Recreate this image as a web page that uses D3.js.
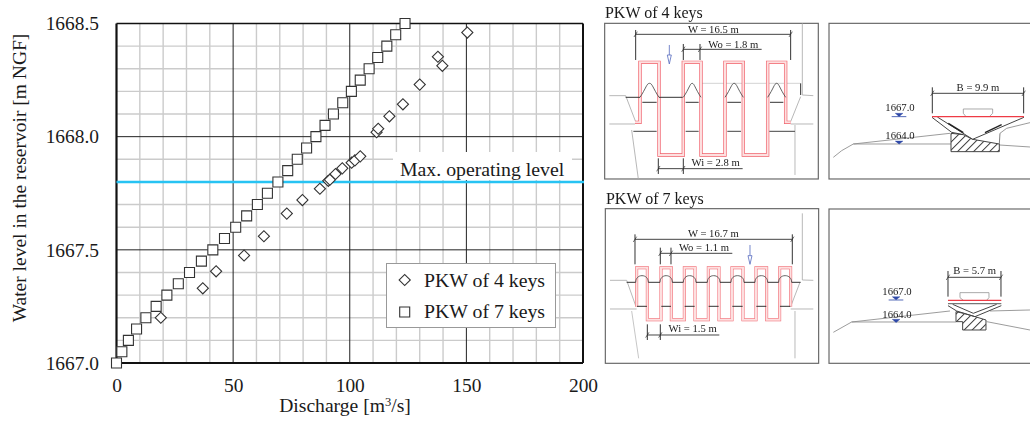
<!DOCTYPE html>
<html>
<head>
<meta charset="utf-8">
<script src="https://d3js.org/d3.v7.min.js"></script>
<style>
	html, body { margin: 0; padding: 0; background: #fff; }
	svg { display: block; }
	text { font-family: "Liberation Serif", serif; fill: #1a1a1a; }
</style>
</head>
<body>
<svg id="chart" width="1030" height="421"></svg>
<script>

	var levels7 = [1667.0, 1667.05, 1667.1, 1667.15, 1667.2, 1667.25, 1667.3, 1667.35, 1667.4, 1667.45, 1667.5,
		1667.55, 1667.6, 1667.65, 1667.7, 1667.75, 1667.8, 1667.85, 1667.9, 1667.95, 1668.0,
		1668.05, 1668.1, 1668.15, 1668.2, 1668.25, 1668.3, 1668.35, 1668.4, 1668.45, 1668.5]
	var discharge7 = [0, 2.3, 5.1, 8.6, 12.6, 17, 21.6, 26.5, 31.3, 36.4, 41.3,
		46.3, 51.1, 55.8, 60.4, 64.7, 69.2, 73.4, 77.5, 81.5, 85.5,
		89.4, 93, 97, 100.7, 104.5, 108.3, 112, 115.9, 119.7, 123.7]
	var levels4 = [1667.2, 1667.33, 1667.405, 1667.475, 1667.56, 1667.66, 1667.72, 1667.77, 1667.805, 1667.81,
		1667.835, 1667.86, 1667.885, 1667.895, 1667.913, 1668.02, 1668.035, 1668.09, 1668.143, 1668.23,
		1668.353, 1668.313, 1668.46]
	var discharge4 = [19, 37, 42.7, 54.7, 63.2, 73, 79.7, 87.2, 90.8, 91.5,
		93.9, 96.8, 100.8, 102.2, 104.5, 111.5, 112.2, 117, 122.8, 130,
		137.8, 139.7, 150.4]
	var xTicks = [0, 50, 100, 150, 200]
	var yTicks = [1667.0, 1667.5, 1668.0, 1668.5]
	var legendLabels = ['PKW of 4 keys', 'PKW of 7 keys']
	var maxLevel = 1667.8

	var svg = d3.select('#chart')

	var plotLeft = 116.5, plotRight = 583, plotTop = 23.5, plotBottom = 363
	var x = d3.scaleLinear().domain([0, 200]).range([plotLeft, plotRight])
	var y = d3.scaleLinear().domain([1667, 1668.5]).range([plotBottom, plotTop])

	// grid
	var xMinor = d3.range(0, 201, 10).filter(function(d){ return d % 50 != 0 })
	var yMinor = d3.range(1, 15).filter(function(d){ return d % 5 != 0 }).map(function(d){ return 1667 + d / 10 })

	svg.selectAll('line.vminor').data(xMinor).enter().append('line')
		.attr('x1', x).attr('x2', x).attr('y1', plotTop).attr('y2', plotBottom)
		.style('stroke', '#cbcbcb').style('stroke-width', 1.4)
	svg.selectAll('line.hminor').data(yMinor).enter().append('line')
		.attr('x1', plotLeft).attr('x2', plotRight)
		.attr('y1', y).attr('y2', y)
		.style('stroke', '#cbcbcb').style('stroke-width', 1.4)
	svg.selectAll('line.vmajor').data([50, 100, 150]).enter().append('line')
		.attr('x1', x).attr('x2', x).attr('y1', plotTop).attr('y2', plotBottom)
		.style('stroke', '#222').style('stroke-width', 1)
	svg.selectAll('line.hmajor').data([1667.5, 1668]).enter().append('line')
		.attr('x1', plotLeft).attr('x2', plotRight)
		.attr('y1', y).attr('y2', y)
		.style('stroke', '#222').style('stroke-width', 1)

	// white box behind the level label
	svg.append('rect').attr('x', 393).attr('y', 152).attr('width', 179).attr('height', 28).style('fill', '#fff')

	// frame
	var frameLines = [
		[plotLeft, plotTop, plotRight, plotTop, 1.3], [plotRight, plotTop, plotRight, plotBottom, 2],
		[plotLeft, plotTop, plotLeft, plotBottom, 2.2], [plotLeft, plotBottom, plotRight, plotBottom, 2.2]
	]
	svg.selectAll('line.frame').data(frameLines).enter().append('line')
		.attr('x1', function(d){ return d[0] }).attr('y1', function(d){ return d[1] })
		.attr('x2', function(d){ return d[2] }).attr('y2', function(d){ return d[3] })
		.style('stroke', '#111').style('stroke-width', function(d){ return d[4] })

	// max level line
	svg.append('line')
		.attr('x1', plotLeft).attr('x2', plotRight + 1)
		.attr('y1', y(maxLevel)).attr('y2', y(maxLevel))
		.style('stroke', '#27c3f3').style('stroke-width', 2.4)
	svg.append('text').attr('x', 400).attr('y', 176).style('font-size', '19.8px').text('Max. operating level')

	// axes
	var xAxis = d3.axisBottom(x).tickValues(xTicks).tickSize(0).tickPadding(15)
	var yAxis = d3.axisLeft(y).tickValues(yTicks).tickFormat(d3.format('.1f')).tickSize(0).tickPadding(17.5)

	var gx = svg.append('g').attr('transform', 'translate(0,' + plotBottom + ')').call(xAxis)
	var gy = svg.append('g').attr('transform', 'translate(' + plotLeft + ',0)').call(yAxis)
	gx.select('.domain').remove()
	gy.select('.domain').remove()
	svg.selectAll('.tick text').style('font-size', '19.4px').style('font-family', '"Liberation Serif", serif')

	var xTitle = svg.append('text').attr('x', 345).attr('y', 412).style('text-anchor', 'middle').style('font-size', '19.6px')
	xTitle.append('tspan').text('Discharge [m')
	xTitle.append('tspan').attr('dy', -6).style('font-size', '12.5px').text('3')
	xTitle.append('tspan').attr('dy', 6).text('/s]')

	svg.append('text')
		.attr('transform', 'translate(26,178) rotate(-90)')
		.style('text-anchor', 'middle').style('font-size', '19.5px')
		.text('Water level in the reservoir [m NGF]')

	// points
	var diamond = d3.symbol().type(d3.symbolSquare).size(62)
	var square = d3.symbol().type(d3.symbolSquare).size(100)

	svg.selectAll('path.p4').data(levels4).enter().append('path')
		.attr('d', diamond)
		.attr('transform', function(d, i){ return 'translate(' + x(discharge4[i]) + ',' + y(d) + ') rotate(45)' })
		.style('fill', '#fff').style('stroke', '#333').style('stroke-width', 1.1)
	svg.selectAll('path.p7').data(levels7).enter().append('path')
		.attr('d', square)
		.attr('transform', function(d, i){ return 'translate(' + x(discharge7[i]) + ',' + y(d) + ')' })
		.style('fill', '#fff').style('stroke', '#333').style('stroke-width', 1.1)

	// legend
	svg.append('rect').attr('x', 386.5).attr('y', 263.5).attr('width', 169).attr('height', 64)
		.style('fill', '#fff').style('stroke', '#999').style('stroke-width', 1)
	svg.append('path').attr('d', diamond)
		.attr('transform', 'translate(404.7,280) rotate(45)')
		.style('fill', '#fff').style('stroke', '#333').style('stroke-width', 1.1)
	svg.append('path').attr('d', square)
		.attr('transform', 'translate(404.7,312)')
		.style('fill', '#fff').style('stroke', '#333').style('stroke-width', 1.1)
	svg.selectAll('text.legend').data(legendLabels).enter().append('text')
		.attr('x', 424).attr('y', function(d, i){ return 286.5 + i * 31.5 })
		.style('font-size', '19.8px').text(function(d){ return d })

	// ---- spillway drawings, all in 3x crop units ----
	var defs = svg.append('defs')
	defs.append('pattern').attr('id', 'hatch').attr('width', 17).attr('height', 17)
		.attr('patternUnits', 'userSpaceOnUse').attr('patternTransform', 'rotate(45)')
		.append('line').attr('x1', 0).attr('y1', 0).attr('x2', 0).attr('y2', 17)
		.style('stroke', '#222').style('stroke-width', 5)
	defs.append('filter').attr('id', 'soft').append('feGaussianBlur').attr('stdDeviation', 0.8)

	var line = d3.line()

	function poly(g, pts, color, w, fill) {
		g.append('path').attr('d', line(pts))
			.style('fill', fill || 'none').style('stroke', color).style('stroke-width', w)
			.style('stroke-linejoin', 'miter')
	}
	function label(g, str, px, py, anchor, size) {
		g.append('text').attr('x', px).attr('y', py)
			.style('text-anchor', anchor || 'middle').style('font-size', (size || 32) + 'px').text(str)
	}
	function dim(g, a, b, top1, bot1, yy, extendTo) {
		poly(g, [[a, top1], [a, bot1]], '#333', 3)
		poly(g, [[b, top1], [b, bot1]], '#333', 3)
		poly(g, [[a, yy], [extendTo || b, yy]], '#444', 3)
		poly(g, [[a - 5, yy + 8], [a + 5, yy - 8]], '#222', 2)
		poly(g, [[b - 5, yy + 8], [b + 5, yy - 8]], '#222', 2)
	}
	function arrow(g, px, y1, y2, y3) {
		poly(g, [[px, y1], [px, y2]], '#5a6fc0', 2.5)
		poly(g, [[px - 6, y2], [px + 6, y2], [px, y3], [px - 6, y2]], '#5a6fc0', 2.5, '#fff')
	}
	function sign(g, cx, yy, withLine) {
		poly(g, [[cx - 12, yy], [cx + 12, yy], [cx, yy + 10]], '#2f49a8', 1, '#2f49a8')
		if (withLine) poly(g, [[cx - 22, yy + 10], [cx + 22, yy + 10]], '#2f49a8', 2.5)
	}

	function panel(ox, oy) {
		return svg.append('g').attr('transform', 'translate(' + ox + ',' + oy + ') scale(0.3333)')
			.style('filter', 'url(#soft)')
	}

	// PKW of 4 keys, plan
	var keys4 = [[120, 177], [250, 303], [375, 430], [503, 557]]
	var p1 = panel(600, 0)
	label(p1, 'PKW of 4 keys', 15, 55, 'start', 48)
	p1.append('rect').attr('x', 14).attr('y', 70).attr('width', 641).attr('height', 467)
		.style('fill', 'none').style('stroke', '#666').style('stroke-width', 3.5)
	poly(p1, [[28, 287], [77, 287], [108, 368]], '#aaa', 2.5)
	poly(p1, [[28, 372], [105, 372]], '#aaa', 2.5)
	poly(p1, [[95, 390], [115, 537]], '#aaa', 2.5)
	poly(p1, [[607, 70], [607, 285], [640, 287]], '#aaa', 2.5)
	poly(p1, [[602, 290], [572, 365]], '#aaa', 2.5)
	poly(p1, [[572, 372], [640, 372]], '#aaa', 2.5)
	poly(p1, [[585, 375], [585, 525]], '#bbb', 3)
	poly(p1, [[303, 250], [600, 250]], '#bbb', 2)
	poly(p1, [[602, 250], [602, 285]], '#333', 3)

	var path4 = [[105, 367], [120, 367]]
	keys4.forEach(function(k, i){
		path4.push([k[0], 187], [k[1], 187])
		if (i < 3) path4.push([k[1], 465], [keys4[i + 1][0], 465])
	})
	path4.push([557, 367], [572, 367])
	poly(p1, path4, '#f0606a', 10)
	poly(p1, path4, '#fde0e0', 6)

	poly(p1, [[77, 292], [120, 292]], '#333', 3)
	poly(p1, [[177, 292], [248, 292]], '#333', 3)
	poly(p1, [[100, 394], [170, 394]], '#444', 3)
	poly(p1, [[508, 394], [585, 394]], '#444', 3)
	keys4.forEach(function(k, i){
		p1.append('path')
			.attr('d', 'M' + k[0] + ',292 C' + (k[0] + 18) + ',265 ' + (k[0] + 20) + ',250 ' + ((k[0] + k[1]) / 2) + ',250 C'
				+ (k[1] - 20) + ',250 ' + (k[1] - 18) + ',265 ' + k[1] + ',292')
			.style('fill', 'none').style('stroke', '#444').style('stroke-width', 2.5)
		poly(p1, [[k[0] + 7, 307], [k[1] - 7, 307]], '#333', 3)
		if (i > 0 && i < 3) poly(p1, [[k[0] + 7, 394], [k[1] - 7, 394]], '#444', 3)
	})
	dim(p1, 107, 572, 90, 180, 103)
	dim(p1, 250, 300, 132, 180, 148, 485)
	dim(p1, 175, 250, 475, 522, 506, 428)
	arrow(p1, 208, 135, 165, 192)
	label(p1, 'W = 16.5 m', 340, 99)
	label(p1, 'Wo = 1.8 m', 400, 143)
	label(p1, 'Wi = 2.8 m', 347, 499)

	// PKW of 4 keys, section
	var p2 = panel(820, 0)
	p2.append('rect').attr('x', 27).attr('y', 70).attr('width', 640).attr('height', 467)
		.style('fill', 'none').style('stroke', '#666').style('stroke-width', 3.5)
	poly(p2, [[40, 472], [65, 452], [100, 432], [393, 432]], '#888', 2.5)
	poly(p2, [[100, 432], [390, 400]], '#888', 2.5)
	poly(p2, [[538, 435], [630, 441]], '#888', 2.5)
	poly(p2, [[540, 400], [560, 385], [630, 368]], '#888', 2.5)
	poly(p2, [[393, 400], [430, 404], [458, 418], [538, 432], [538, 455], [393, 455], [393, 400]], '#444', 3, 'url(#hatch)')
	poly(p2, [[538, 432], [540, 400]], '#666', 2.5)
	poly(p2, [[336, 352], [395, 397], [430, 404]], '#444', 3)
	poly(p2, [[352, 351], [458, 418], [612, 352]], '#444', 3)
	poly(p2, [[385, 370], [430, 398]], '#222', 4)
	poly(p2, [[495, 398], [545, 374]], '#222', 4)
	poly(p2, [[430, 340], [430, 327], [518, 327], [518, 340], [508, 350]], '#999', 2.5)
	poly(p2, [[430, 340], [438, 350]], '#999', 2.5)
	poly(p2, [[336, 350], [612, 350]], '#ee3a45', 3.5)
	dim(p2, 337, 611, 262, 340, 280)
	label(p2, 'B = 9.9 m', 474, 272)
	label(p2, '1667.0', 240, 334)
	sign(p2, 237, 340, true)
	label(p2, '1664.0', 240, 417)
	sign(p2, 237, 423, false)

	// PKW of 7 keys, plan
	var keys7 = [[107, 145], [180, 217], [250, 288], [322, 360], [393, 432], [465, 503], [536, 575]]
	var p3 = panel(600, 185)
	label(p3, 'PKW of 7 keys', 18, 57, 'start', 48)
	p3.append('rect').attr('x', 16).attr('y', 71).attr('width', 640).attr('height', 464)
		.style('fill', 'none').style('stroke', '#666').style('stroke-width', 3.5)
	poly(p3, [[30, 286], [80, 286], [108, 365]], '#aaa', 2.5)
	poly(p3, [[30, 372], [110, 372]], '#aaa', 2.5)
	poly(p3, [[95, 378], [116, 520]], '#bbb', 2.5)
	poly(p3, [[607, 85], [607, 285], [640, 286]], '#aaa', 2.5)
	poly(p3, [[600, 292], [572, 365]], '#aaa', 2.5)
	poly(p3, [[572, 372], [640, 372]], '#aaa', 2.5)
	poly(p3, [[585, 378], [585, 520]], '#bbb', 3)

	var path7 = [[110, 365]]
	keys7.forEach(function(k, i){
		path7.push([k[0] + 3, 248], [k[1] - 3, 248])
		if (i < 6) path7.push([k[1] - 3, 404], [keys7[i + 1][0] + 3, 404])
	})
	path7.push([572, 365])
	poly(p3, path7, '#f0606a', 9)
	poly(p3, path7, '#fde0e0', 6)

	poly(p3, [[80, 292], [107, 292]], '#333', 3)
	poly(p3, [[575, 292], [602, 292]], '#333', 3)
	keys7.forEach(function(k, i){
		p3.append('path')
			.attr('d', 'M' + k[0] + ',292 C' + k[0] + ',280 ' + (k[0] + 8) + ',272 ' + ((k[0] + k[1]) / 2) + ',272 C'
				+ (k[1] - 8) + ',272 ' + k[1] + ',280 ' + k[1] + ',292')
			.style('fill', 'none').style('stroke', '#444').style('stroke-width', 2.5)
		if (i < 6) poly(p3, [[k[1], 292], [keys7[i + 1][0], 292]], '#333', 3)
		poly(p3, [[k[0] + 4, 364], [k[1] - 4, 364]], '#333', 3)
	})
	dim(p3, 105, 577, 148, 238, 163)
	dim(p3, 181, 213, 188, 238, 205, 397)
	dim(p3, 142, 181, 418, 465, 450, 358)
	arrow(p3, 450, 180, 212, 238)
	label(p3, 'W = 16.7 m', 340, 157)
	label(p3, 'Wo = 1.1 m', 312, 198)
	label(p3, 'Wi = 1.5 m', 278, 442)

	// PKW of 7 keys, section
	var p4 = panel(820, 185)
	p4.append('rect').attr('x', 27).attr('y', 72).attr('width', 640).attr('height', 463)
		.style('fill', 'none').style('stroke', '#666').style('stroke-width', 3.5)
	poly(p4, [[40, 442], [95, 411], [408, 411]], '#888', 2.5)
	poly(p4, [[95, 411], [390, 378]], '#888', 2.5)
	poly(p4, [[500, 410], [630, 435]], '#888', 2.5)
	poly(p4, [[510, 378], [630, 375]], '#888', 2.5)
	poly(p4, [[408, 380], [430, 385], [465, 395], [498, 405], [498, 435], [428, 435], [428, 410], [408, 410], [408, 380]], '#444', 3, 'url(#hatch)')
	poly(p4, [[384, 362], [410, 378], [465, 395], [544, 362]], '#444', 3)
	poly(p4, [[398, 358], [460, 385], [530, 358]], '#444', 3)
	poly(p4, [[420, 338], [420, 323], [507, 323], [507, 338], [500, 346]], '#999', 2.5)
	poly(p4, [[420, 338], [430, 346]], '#999', 2.5)
	poly(p4, [[384, 356], [544, 356]], '#777', 3.5)
	poly(p4, [[384, 346], [544, 346]], '#ee3a45', 3.5)
	dim(p4, 384, 543, 258, 335, 277)
	label(p4, 'B = 5.7 m', 464, 268)
	label(p4, '1667.0', 231, 331)
	sign(p4, 228, 335, true)
	label(p4, '1664.0', 231, 400)
	sign(p4, 228, 403, false)

</script>
</body>
</html>
